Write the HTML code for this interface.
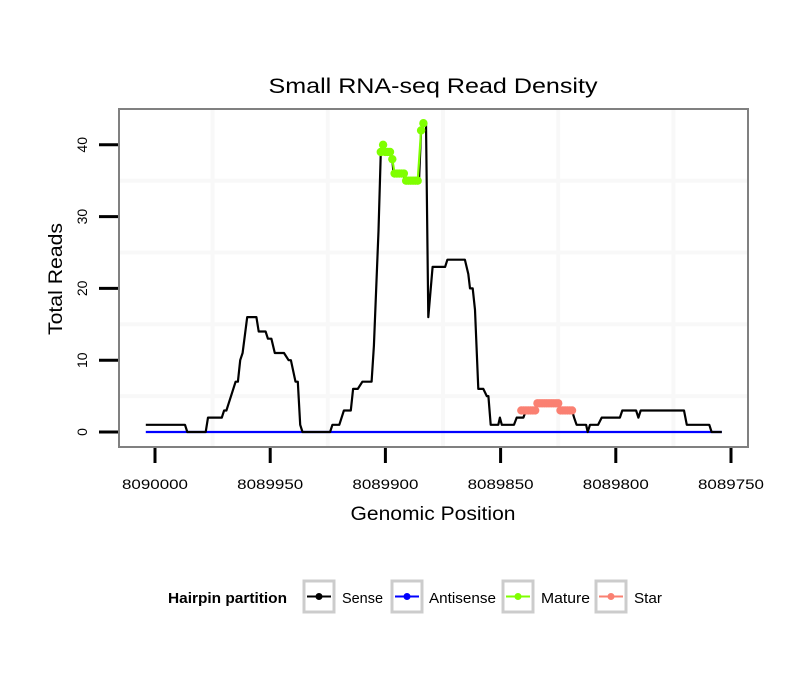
<!DOCTYPE html>
<html><head><meta charset="utf-8"><style>
body{margin:0;background:#fff;}
svg{display:block;font-family:"Liberation Sans",sans-serif;}
</style></head><body>
<svg id="chart" width="810" height="690" viewBox="0 0 810 690">
<rect x="0" y="0" width="810" height="690" fill="#fff"/>
<text x="433" y="93" text-anchor="middle" font-size="21" textLength="329" lengthAdjust="spacingAndGlyphs">Small RNA-seq Read Density</text>
<rect x="119" y="109" width="629" height="338" fill="#fff"/>
<g id="grid"></g>
<g id="series"></g>
<rect x="119" y="109" width="629" height="338" fill="none" stroke="#808080" stroke-width="2"/>
<g id="axes"></g>
<text x="433" y="520" text-anchor="middle" font-size="19" textLength="165" lengthAdjust="spacingAndGlyphs">Genomic Position</text>
<text transform="translate(62,279) rotate(-90)" text-anchor="middle" font-size="19" textLength="112" lengthAdjust="spacingAndGlyphs">Total Reads</text>
<g font-size="15">
<text x="168" y="603" font-weight="bold" textLength="119" lengthAdjust="spacingAndGlyphs">Hairpin partition</text>
<g><rect x="304" y="581" width="30" height="31" fill="#fff" stroke="#ccc" stroke-width="3"/><line x1="307" y1="596.5" x2="331" y2="596.5" stroke="#000" stroke-width="2"/><circle cx="319" cy="596.5" r="3.5" fill="#000"/><text x="342" y="603" textLength="41" lengthAdjust="spacingAndGlyphs">Sense</text></g>
<g><rect x="392" y="581" width="30" height="31" fill="#fff" stroke="#ccc" stroke-width="3"/><line x1="395" y1="596.5" x2="419" y2="596.5" stroke="#0000ff" stroke-width="2"/><circle cx="407" cy="596.5" r="3.5" fill="#0000ff"/><text x="429" y="603" textLength="67" lengthAdjust="spacingAndGlyphs">Antisense</text></g>
<g><rect x="503" y="581" width="30" height="31" fill="#fff" stroke="#ccc" stroke-width="3"/><line x1="506" y1="596.5" x2="530" y2="596.5" stroke="#7fff00" stroke-width="2"/><circle cx="518" cy="596.5" r="3.5" fill="#7fff00"/><text x="541" y="603" textLength="49" lengthAdjust="spacingAndGlyphs">Mature</text></g>
<g><rect x="596" y="581" width="30" height="31" fill="#fff" stroke="#ccc" stroke-width="3"/><line x1="599" y1="596.5" x2="623" y2="596.5" stroke="#fa8072" stroke-width="2"/><circle cx="611" cy="596.5" r="3.5" fill="#fa8072"/><text x="634" y="603" textLength="28" lengthAdjust="spacingAndGlyphs">Star</text></g>
</g>
</svg>
<script>
const xTicks=[8090000,8089950,8089900,8089850,8089800,8089750];
const yTicks=[0,10,20,30,40];
const senseX=[8090004,8089987,8089986,8089978,8089977,8089971,8089970,8089969,8089968,8089966,8089965,8089964,8089963,8089962,8089960,8089956,8089955,8089952,8089951,8089949.5,8089948,8089944,8089942,8089941,8089939,8089938,8089937,8089936,8089924,8089923,8089920,8089918,8089915,8089914,8089912,8089910,8089906,8089905,8089903,8089902,8089901,8089900,8089898,8089897,8089896.5,8089892.4,8089891.5,8089885.4,8089884.5,8089883.2,8089882.4,8089881.4,8089879.5,8089874.1,8089873.1,8089865.5,8089864,8089863.3,8089862.1,8089861.1,8089859.7,8089857.5,8089856,8089855.3,8089854.3,8089851,8089850.3,8089849.5,8089844.2,8089843,8089840.1,8089839,8089835.1,8089834.2,8089825.1,8089824.2,8089819,8089818.1,8089817,8089812.9,8089812.2,8089811.2,8089807.7,8089806.1,8089798.2,8089797.2,8089791.2,8089790.2,8089789.2,8089770.4,8089769.2,8089759.4,8089758.4,8089754];
const senseY=[1,1,0,0,2,2,3,3,4,6,7,7,10,11,16,16,14,14,13,13,11,11,10,10,7,7,1,0,0,1,1,3,3,6,6,7,7,12,28,39,40,39,39,38,36,36,35,35,42,43,43,16,23,23,24,24,22,20,20,17,6,6,5,5,1,1,2,1,1,2,2,3,3,4,4,3,3,2,1,1,0,1,1,2,2,3,3,2,3,3,1,1,0,0];
const antisenseX=[8090004,8089754];
const antisenseY=[0,0];
const matureX=[8089902,8089901,8089900,8089899,8089898,8089897,8089896,8089895,8089894,8089893,8089892,8089891,8089890,8089889,8089888,8089887,8089886,8089884.5,8089883.5];
const matureY=[39,40,39,39,39,38,36,36,36,36,36,35,35,35,35,35,35,42,43];
const starX=[8089841,8089840,8089839,8089838,8089837,8089836,8089835,8089834,8089833,8089832,8089831,8089830,8089829,8089828,8089827,8089826,8089825,8089824,8089823,8089822,8089821,8089820,8089819];
const starY=[3,3,3,3,3,3,3,4,4,4,4,4,4,4,4,4,4,3,3,3,3,3,3];
const xGrid=[8089975,8089925,8089875,8089825,8089775];
const yGrid=[5,15,25,35];

function sx(p){return 155+(8090000-p)*2.304;}
function sy(v){return 432-v*7.18;}
const NS='http://www.w3.org/2000/svg';
function mk(tag,attrs,parent){const e=document.createElementNS(NS,tag);for(const k in attrs)e.setAttribute(k,attrs[k]);parent.appendChild(e);return e;}
const grid=document.getElementById('grid'),series=document.getElementById('series'),axes=document.getElementById('axes');
xGrid.forEach(g=>{const l=mk('line',{x1:sx(g),x2:sx(g),y1:110,y2:446,stroke:'#f8f8f8','stroke-width':4},grid);

});
yGrid.forEach(g=>{const l=mk('line',{x1:120,x2:747,y1:sy(g),y2:sy(g),stroke:'#f8f8f8','stroke-width':4},grid);

});
function poly(xs,ys,color,name,w){const pts=xs.map((x,i)=>sx(x).toFixed(1)+','+sy(ys[i]).toFixed(1)).join(' ');
const p=mk('polyline',{points:pts,fill:'none',stroke:color,'stroke-width':w,'stroke-linejoin':'round'},series);

}
function dots(xs,ys,color,name){xs.forEach((x,i)=>{const c=mk('circle',{cx:sx(x),cy:sy(ys[i]),r:4.2,fill:color},series);

});}
poly(antisenseX,antisenseY,'#0000ff','antisense-line',2.2);
poly(senseX,senseY,'#000','sense-line',2.2);
poly(matureX,matureY,'#7fff00','mature-line',2.2);
dots(matureX,matureY,'#7fff00','mature-point');
poly(starX,starY,'#fa8072','star-line',2.2);
dots(starX,starY,'#fa8072','star-point');
xTicks.forEach(t=>{const l=mk('line',{x1:sx(t),x2:sx(t),y1:448,y2:463,stroke:'#000','stroke-width':3},axes);


const tx=mk('text',{x:sx(t),y:489,'text-anchor':'middle','font-size':14,textLength:66,lengthAdjust:'spacingAndGlyphs'},axes);tx.textContent=t;

});
yTicks.forEach(t=>{const l=mk('line',{x1:99,x2:118,y1:sy(t),y2:sy(t),stroke:'#000','stroke-width':3},axes);


const tx=mk('text',{transform:'translate(87,'+sy(t)+') rotate(-90)','text-anchor':'middle','font-size':14},axes);tx.textContent=t;

});
</script>
</body></html>
